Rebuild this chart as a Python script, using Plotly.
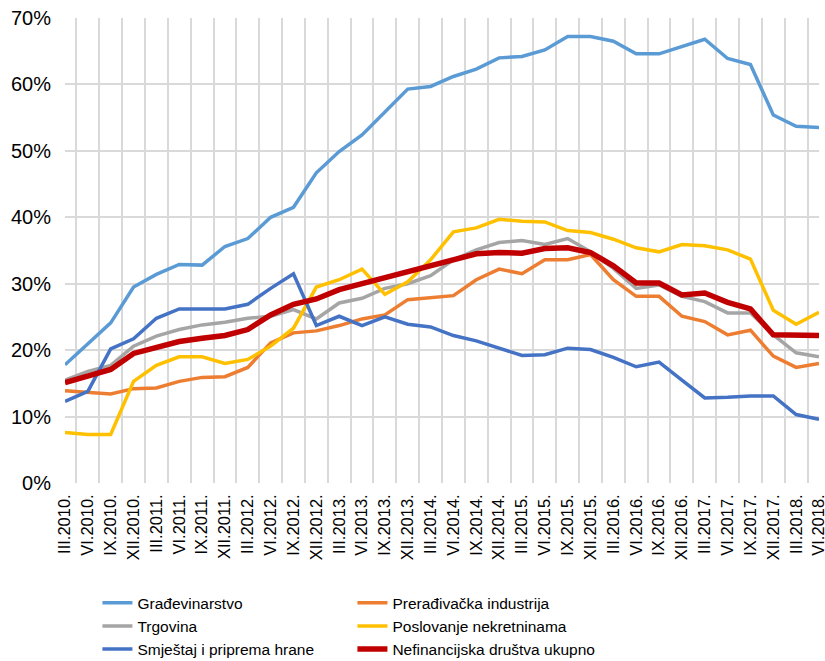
import plotly.graph_objects as go

# quarters III.2010 .. VI.2018
quarters = []
for year in range(2010, 2019):
    for m in ["III", "VI", "IX", "XII"]:
        quarters.append(f"{m}.{year}.")
quarters = quarters[:34]

gradjevinarstvo = [17.8, 21.0, 24.1, 29.5, 31.4, 32.9, 32.8, 35.6, 36.8, 40.0, 41.5, 46.7,
                   49.9, 52.4, 55.9, 59.3, 59.7, 61.2, 62.3, 64.0, 64.2, 65.2, 67.2, 67.2,
                   66.5, 64.6, 64.6, 65.7, 66.8, 63.9, 63.0, 55.4, 53.7, 53.5]
preradjivacka = [13.9, 13.6, 13.4, 14.2, 14.3, 15.3, 15.9, 16.0, 17.4, 21.1, 22.6, 22.9,
                 23.7, 24.7, 25.3, 27.6, 27.9, 28.2, 30.6, 32.2, 31.5, 33.6, 33.6, 34.4,
                 30.6, 28.1, 28.1, 25.1, 24.3, 22.3, 23.0, 19.1, 17.4, 18.0]
trgovina = [15.5, 16.8, 17.7, 20.6, 22.1, 23.1, 23.8, 24.2, 24.8, 25.1, 26.1, 24.7,
            27.1, 27.8, 29.3, 30.0, 31.2, 33.6, 35.1, 36.2, 36.5, 35.9, 36.8, 34.8,
            32.3, 29.3, 29.8, 28.1, 27.3, 25.6, 25.6, 22.3, 19.6, 19.0]
poslovanje = [7.6, 7.3, 7.3, 15.3, 17.7, 19.0, 19.0, 18.0, 18.6, 20.6, 23.3, 29.5,
              30.6, 32.2, 28.4, 30.3, 33.6, 37.8, 38.4, 39.7, 39.4, 39.3, 38.0, 37.7,
              36.7, 35.4, 34.8, 35.9, 35.7, 35.1, 33.7, 26.0, 23.9, 25.7]
smjestaj = [12.3, 13.8, 20.2, 21.7, 24.8, 26.2, 26.2, 26.2, 26.9, 29.3, 31.5, 23.7,
            25.1, 23.7, 25.0, 23.9, 23.5, 22.2, 21.4, 20.3, 19.2, 19.3, 20.3, 20.1,
            18.9, 17.5, 18.2, 15.5, 12.8, 12.9, 13.1, 13.1, 10.3, 9.6]
nefinancijska = [15.1, 16.1, 17.1, 19.5, 20.4, 21.3, 21.8, 22.2, 23.1, 25.3, 26.9, 27.7,
                 29.1, 30.0, 30.8, 31.9, 32.6, 33.6, 34.5, 34.7, 34.6, 35.3, 35.4, 34.7,
                 32.7, 30.1, 30.1, 28.3, 28.6, 27.2, 26.2, 22.3, 22.2, 22.2]

series = [
    ("Građevinarstvo", gradjevinarstvo, "#5B9BD5", 3.5),
    ("Prerađivačka industrija", preradjivacka, "#ED7D31", 3.5),
    ("Trgovina", trgovina, "#A5A5A5", 3.5),
    ("Poslovanje nekretninama", poslovanje, "#FFC000", 3.5),
    ("Smještaj i priprema hrane", smjestaj, "#4472C4", 3.5),
    ("Nefinancijska društva ukupno", nefinancijska, "#C00000", 5.5),
]

fig = go.Figure()
for name, vals, color, width in series:
    fig.add_trace(go.Scatter(
        x=quarters,
        y=[v / 100 for v in vals],
        name=name,
        mode="lines",
        line=dict(color=color, width=width),
    ))

_GRID = "#D9D9D9"

fig.update_layout(
    width=825,
    height=661,
    paper_bgcolor="white",
    plot_bgcolor="white",
    margin=dict(l=65, r=6, t=18, b=178, autoexpand=False),
    font=dict(family="Liberation Sans, Arial, sans-serif", color="black"),
    xaxis=dict(
        type="category",
        tickson="boundaries",
        tickangle=-90,
        showgrid=True,
        gridcolor=_GRID,
        gridwidth=1.5,
        ticks="",
        tickfont=dict(size=16.5),
        ticklabelstandoff=7,
        ticklabeloverflow="allow",
        showline=False,
        zeroline=False,
    ),
    yaxis=dict(
        range=[0, 0.7],
        dtick=0.1,
        tickformat=".0%",
        showgrid=True,
        gridcolor=_GRID,
        gridwidth=1.5,
        zeroline=False,
        ticks="",
        tickfont=dict(size=20),
        ticklabelstandoff=13,
    ),
    legend=dict(
        orientation="h",
        x=0.043,
        xanchor="left",
        y=-0.222,
        yanchor="top",
        entrywidth=210,
        font=dict(size=15.5),
        tracegroupgap=0,
    ),
)

# page body has a default 8px margin; drop it so the figure sits at the corner
fig.write_html(
    "out.html",
    config={"displayModeBar": False},
    post_script="document.body.style.margin='0';",
)
